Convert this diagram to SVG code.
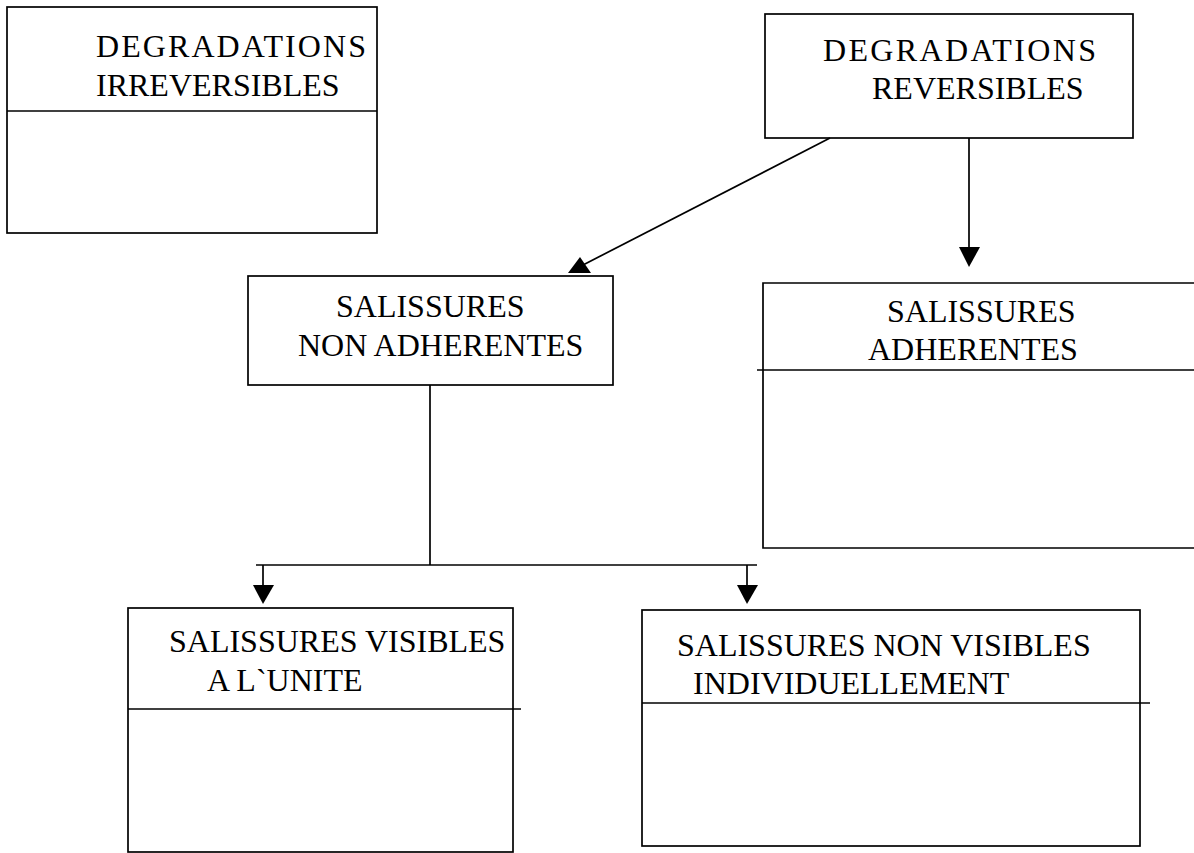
<svg xmlns="http://www.w3.org/2000/svg" width="1194" height="853" viewBox="0 0 1194 853">
<style>
.box{fill:none;stroke:#000;stroke-width:1.7}
.ln{fill:none;stroke:#000;stroke-width:1.7}
.head{fill:#000;stroke:none}
text{font-family:"Liberation Serif","Times New Roman",serif;font-size:32px;fill:#000}
</style>
<rect width="1194" height="853" fill="#fff"/>
<g id="degradations-irreversibles">
<rect class="box" x="7" y="7" width="370" height="226"/>
<line class="ln" x1="7" y1="111" x2="377" y2="111"/>
<text x="96" y="57" textLength="270" lengthAdjust="spacing">DEGRADATIONS</text>
<text x="96" y="96">IRREVERSIBLES</text>
</g>
<g id="degradations-reversibles">
<rect class="box" x="765" y="14" width="368" height="124"/>
<text x="823" y="61" textLength="273" lengthAdjust="spacing">DEGRADATIONS</text>
<text x="872" y="99">REVERSIBLES</text>
</g>
<g id="salissures-non-adherentes">
<rect class="box" x="248" y="276" width="365" height="109"/>
<text x="336" y="317">SALISSURES</text>
<text x="298" y="356">NON ADHERENTES</text>
</g>
<g id="salissures-adherentes">
<path class="ln" d="M1194,283 H763 V548 H1194"/>
<line class="ln" x1="757" y1="370" x2="1194" y2="370"/>
<text x="887" y="322">SALISSURES</text>
<text x="868" y="360">ADHERENTES</text>
</g>
<g id="salissures-visibles">
<rect class="box" x="128" y="608" width="385" height="244"/>
<line class="ln" x1="128" y1="709" x2="521" y2="709"/>
<text x="169" y="652">SALISSURES VISIBLES</text>
<text x="207" y="691">A L`UNITE</text>
</g>
<g id="salissures-non-visibles">
<rect class="box" x="642" y="610" width="498" height="236"/>
<line class="ln" x1="642" y1="703" x2="1150" y2="703"/>
<text x="677" y="656">SALISSURES NON VISIBLES</text>
<text x="693" y="694">INDIVIDUELLEMENT</text>
</g>
<g id="connectors">
<line class="ln" x1="830" y1="138" x2="583" y2="265"/>
<polygon class="head" points="568,273 591,273 580,257"/>
<line class="ln" x1="969" y1="138" x2="969" y2="248"/>
<polygon class="head" points="959,247 980,247 969,267"/>
<line class="ln" x1="430" y1="385" x2="430" y2="565"/>
<line class="ln" x1="256" y1="565" x2="757" y2="565"/>
<line class="ln" x1="263" y1="565" x2="263" y2="586"/>
<polygon class="head" points="253,585 274,585 263,604"/>
<line class="ln" x1="747" y1="565" x2="747" y2="586"/>
<polygon class="head" points="737,585 758,585 747,604"/>
</g>
</svg>
